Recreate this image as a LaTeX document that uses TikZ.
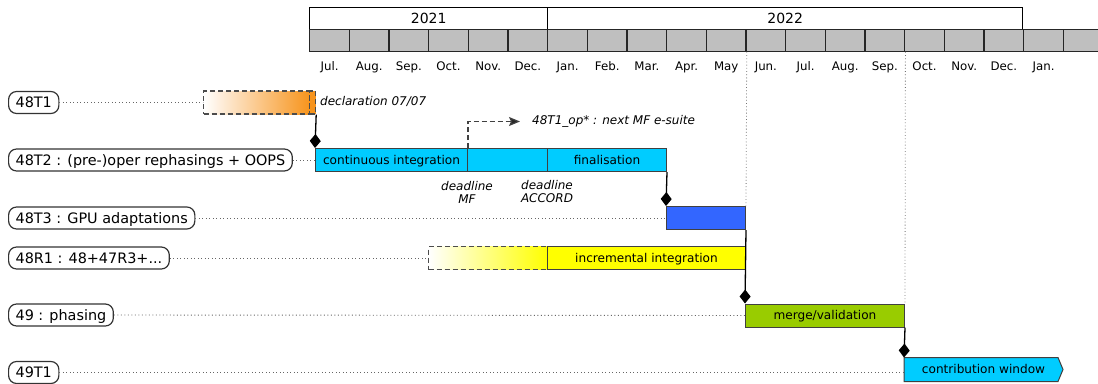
\documentclass[tikz,border=0pt]{standalone}
\usepackage{fontspec}
\setmainfont{DejaVu Sans}[ItalicFont={DejaVu Sans Oblique},BoldFont={DejaVu Sans Bold}]
\usetikzlibrary{arrows.meta,backgrounds,calc}

\definecolor{barcyan}{RGB}{0,204,255}
\definecolor{barblue}{RGB}{51,102,255}
\definecolor{baryellow}{RGB}{255,255,0}
\definecolor{bargreen}{RGB}{153,204,0}
\definecolor{declorange}{RGB}{247,148,29}
\definecolor{cellgray}{RGB}{191,191,191}

\begin{document}
\begin{tikzpicture}[x=1pt,y=-1pt,
  yearcell/.style={draw=black, line width=1.4pt, fill=white, minimum width=#1,
    minimum height=21.5pt, inner sep=0pt, anchor=north west,
    font=\fontsize{14}{16}\selectfont},
  monthcell/.style={draw=black!85, line width=1.4pt, fill=cellgray,
    minimum width=39.667pt, minimum height=22pt, inner sep=0pt, anchor=north west},
  monthlabel/.style={font=\fontsize{11.8}{14}\selectfont, anchor=base, inner sep=0pt},
  task/.style={draw=black!80, line width=1.2pt, rounded corners=8pt,
    minimum height=22pt, inner xsep=7pt, inner ysep=0pt, anchor=west,
    font=\fontsize{14.4}{16}\selectfont, text height=10.4pt, text depth=0pt},
  bar/.style={draw=black!75, line width=1pt, minimum width=#1, minimum height=23pt,
    inner sep=0pt, anchor=west, font=\fontsize{12.1}{14}\selectfont,
    text height=8.8pt, text depth=0pt},
  dashbox/.style={draw=black!70, line width=1.2pt, dash pattern=on 5pt off 3pt,
    minimum width=#1, minimum height=23pt, inner sep=0pt, anchor=west},
  note/.style={font=\fontsize{12}{13}\selectfont\itshape, inner sep=2pt},
  rowdots/.style={draw=black!60, line width=0.9pt, dash pattern=on 0.9pt off 2.6pt},
  guide/.style={draw=black!55, line width=0.8pt, dash pattern=on 0.8pt off 2.4pt},
  link/.style={draw=black, line width=1.3pt, -{Diamond[length=14pt,width=11pt]}},
  nextarrow/.style={draw=black!75, line width=1.2pt, dash pattern=on 5pt off 3pt,
    -{Stealth[length=11pt,width=9pt,inset=2pt,fill=black!85]}}
]
\useasboundingbox (0,0) rectangle (1098,383);

% ---- calendar header ----
\node[yearcell=238pt] (y2021) at (309,7) {2021};
\node[yearcell=475pt] (y2022) at (547,7) {2022};
\foreach \i in {1,...,20}
  \node[monthcell] (m\i) at ({309+(\i-1)*39.667},28.5) {};
\foreach \m [count=\i] in {Jul.,Aug.,Sep.,Oct.,Nov.,Dec.,Jan.,Feb.,Mar.,Apr.,May,Jun.,Jul.,Aug.,Sep.,Oct.,Nov.,Dec.,Jan.}
  \node[monthlabel] (ml\i) at ($(m\i.south)+(0,18.5)$) {\m};

% ---- task labels ----
\node[task] (l1) at (8,102.5) {48T1};
\node[task] (l2) at (8,160) {48T2 : (pre-)oper rephasings + OOPS};
\node[task] (l3) at (8,218) {48T3 : GPU adaptations};
\node[task] (l4) at (8,258) {48R1 : 48+47R3+...};
\node[task] (l5) at (8,315) {49 : phasing};
\node[task] (l6) at (8,372.5) {49T1};

% ---- bars ----
\node[dashbox=106pt, left color=white, right color=declorange] (t1lead) at (203,102.5) {};
\node[dashbox=6pt, fill=declorange] (t1decl) at (309,102.5) {};
\node[note, anchor=west] (decl) at (318,101) {declaration 07/07};

\node[bar=152pt, fill=barcyan] (t2a) at (315,160) {continuous integration};
\node[bar=80pt, fill=barcyan] (t2b) at (467,160) {};
\node[bar=119pt, fill=barcyan] (t2c) at (547,160) {finalisation};

\node[bar=79pt, fill=barblue] (t3bar) at (666,218) {};

\node[dashbox=119pt, left color=white, right color=baryellow] (r1lead) at (428,258) {};
\node[bar=198pt, fill=baryellow] (r1bar) at (547,258) {incremental integration};

\node[bar=159pt, fill=bargreen] (p49bar) at (745,315.5) {merge/validation};

\node[bar=158pt, draw=none] (cw) at (904,369.5) {contribution window};
\begin{scope}[on background layer]
  \draw[draw=black!75, line width=1pt, fill=barcyan]
    (cw.north west) -- ([xshift=-5pt]cw.north east) -- (cw.east)
    -- ([xshift=-5pt]cw.south east) -- (cw.south west) -- cycle;
\end{scope}

% ---- deadlines ----
\node[note, align=center] (dlmf) at (467,192) {deadline\\MF};
\node[note, align=center] (dlacc) at (547,192) {deadline\\ACCORD};
\node[note, anchor=west] (op) at (530,121.5) {48T1\_op* : next MF e-suite};
\draw[nextarrow] (t2a.north east) |- ([xshift=-10pt]op.west);

% ---- row leaders ----
\draw[rowdots] (l1.east) -- (t1lead.west);
\draw[rowdots] (l2.east) -- (t2a.west);
\draw[rowdots] (l3.east) -- (t3bar.west);
\draw[rowdots] (l4.east) -- (r1lead.west);
\draw[rowdots] (l5.east) -- (p49bar.west);
\draw[rowdots] (l6.east) -- (l6.east -| cw.west);

% ---- milestone guides ----
\draw[guide] (m11.south east) -- (t3bar.north east);
\draw[guide] (m15.south east) -- (p49bar.north east);

% ---- dependencies ----
\draw[link] (t1decl.south east) -- (t2a.north west);
\draw[link] (t2c.south east) -- (t3bar.north west);
\draw[link] (t3bar.south east) -- (p49bar.north west);
\draw[link] (p49bar.south east) -- (cw.north west);
\end{tikzpicture}
\end{document}
